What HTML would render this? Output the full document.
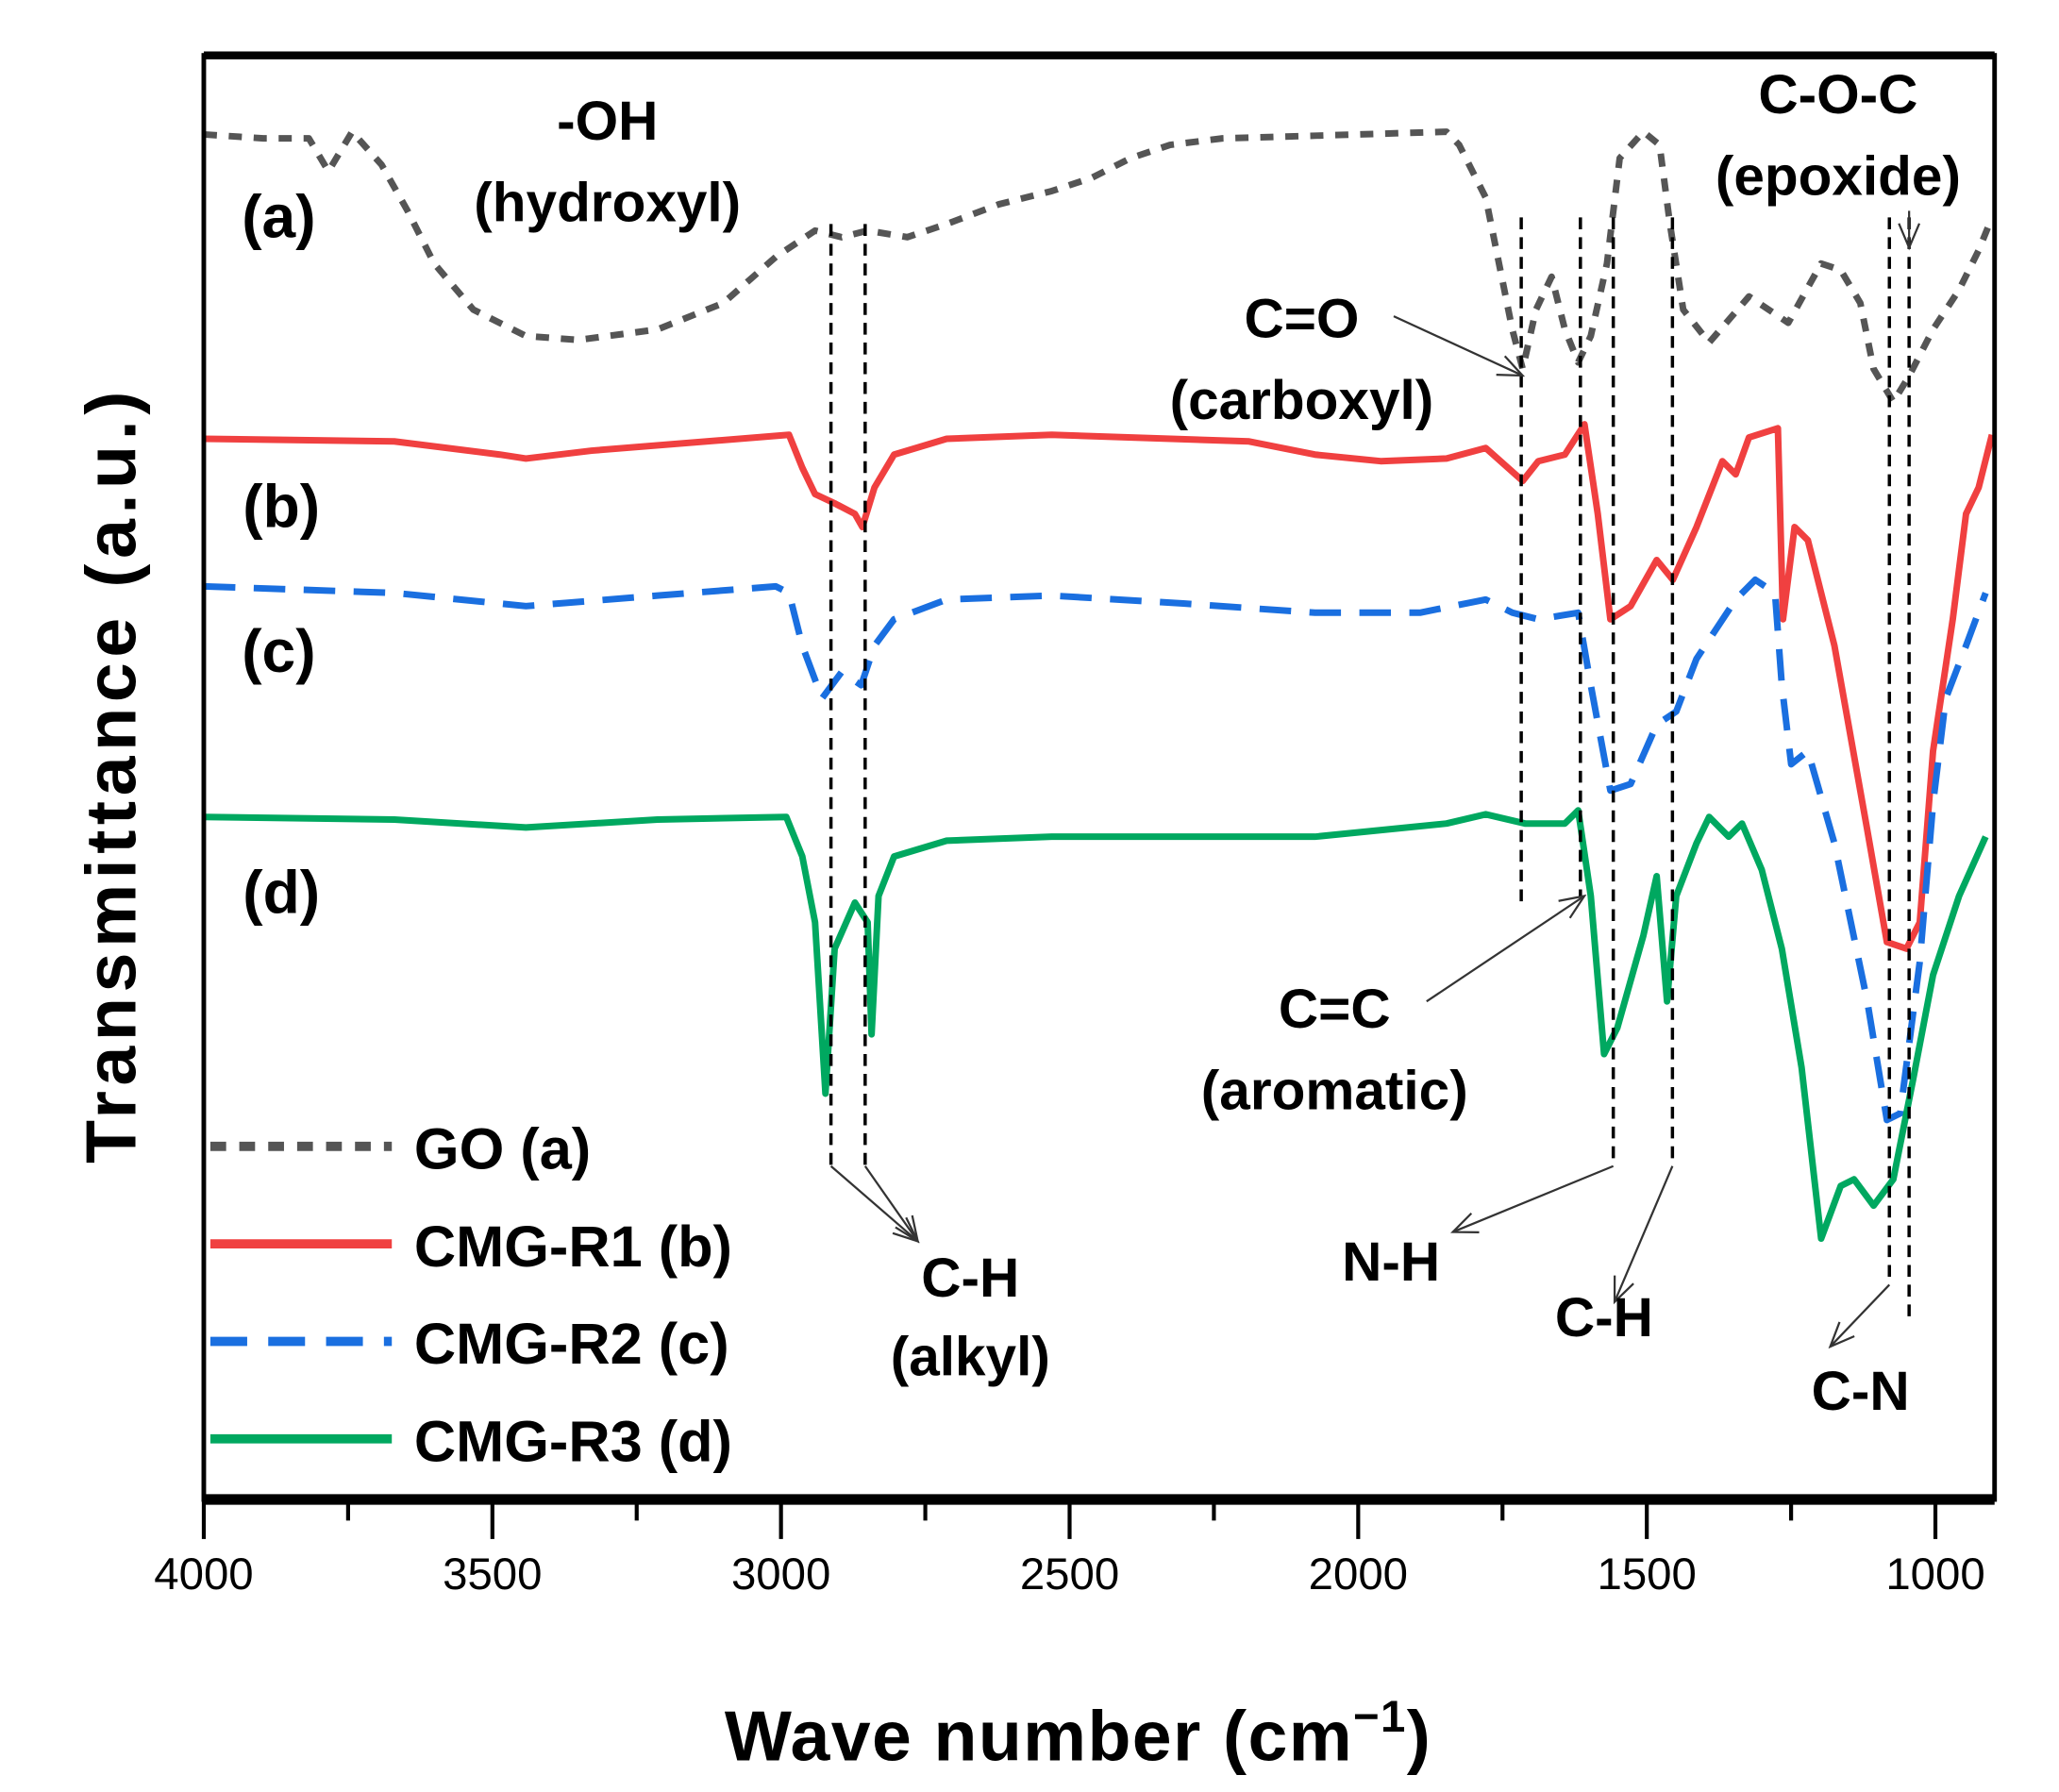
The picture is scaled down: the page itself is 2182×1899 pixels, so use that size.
<!DOCTYPE html>
<html><head><meta charset="utf-8"><style>
html,body{margin:0;padding:0;background:#fff;}
svg{display:block;}
text{font-family:"Liberation Sans",sans-serif;font-weight:bold;fill:#000;}
</style></head><body>
<svg id="chart" width="2182" height="1899" viewBox="0 0 1566 1360" preserveAspectRatio="none" xmlns="http://www.w3.org/2000/svg">
<g id="plot"></g>
</svg>
<script>
const xTicks = [4000,3500,3000,2500,2000,1500,1000];
const xMinor = [3750,3250,2750,2250,1750,1250];
const goWn = [4000,3897,3818,3784,3743,3692,3647,3601,3533,3442,3351,3214,3100,3009,2941,2895,2850,2781,2713,2622,2531,2462,2394,2326,2235,2075,1847,1825,1779,1756,1733,1715,1692,1665,1642,1619,1597,1569,1547,1506,1478,1460,1437,1392,1323,1255,1198,1164,1130,1107,1073,1045,1004,959,925,902];
const goVal = [1036,1033,1033,1008,1038,1013,978,938,903,883,880,888,908,943,963,958,963,958,968,983,993,1003,1018,1028,1033,1035,1038,1028,988,938,888,858,903,928,888,863,883,938,1018,1038,1028,968,903,878,913,893,938,933,908,858,833,853,888,918,948,973];
const r1Wn = [4000,3670,3487,3442,3328,2986,2963,2941,2907,2872,2859,2838,2804,2713,2531,2189,2075,1961,1847,1779,1715,1688,1642,1608,1585,1563,1528,1483,1455,1414,1369,1346,1323,1273,1264,1244,1221,1175,1118,1084,1050,1027,1004,970,947,925,902];
const r1Val = [805,803,793,790,796,808,783,763,756,748,738,768,793,805,808,803,793,788,790,798,773,788,793,816,748,668,678,713,698,738,788,778,806,813,668,738,728,648,508,423,418,438,568,668,748,768,808];
const r2Wn = [4000,3670,3442,3214,3009,2986,2963,2929,2895,2861,2838,2804,2713,2531,2303,2075,1893,1779,1733,1688,1619,1597,1563,1528,1483,1449,1414,1346,1312,1278,1266,1250,1221,1175,1118,1084,1061,1027,1004,982,947,913];
const r2Val = [693,688,678,686,693,688,648,608,628,618,648,668,683,686,680,673,673,683,673,668,673,618,538,543,588,598,638,683,698,688,618,558,568,498,378,288,293,408,528,608,648,688];
const r3Wn = [4000,3670,3442,3214,2991,2963,2941,2923,2907,2872,2850,2843,2831,2804,2713,2531,2075,1847,1779,1711,1642,1619,1597,1574,1551,1506,1483,1465,1449,1414,1392,1358,1335,1301,1266,1232,1198,1164,1141,1107,1073,1039,1004,959,913];
const r3Val = [518,516,510,516,518,488,438,308,418,453,438,353,458,488,500,503,503,513,520,513,513,523,458,338,358,428,473,378,458,498,518,503,513,478,418,328,198,238,243,223,243,318,398,458,503];

const L=155,R=1517,T=42,B=1138;
const xScale = wn => L + (4000-wn)*(1472-155)/3000;
const yScale = v => B - v;
const NS='http://www.w3.org/2000/svg';
const g=document.getElementById('plot');
function mk(tag,attrs,parent){const e=document.createElementNS(NS,tag);for(const k in attrs)e.setAttribute(k,attrs[k]);(parent||g).appendChild(e);return e;}

function series(wn,val,color,dash,width,name){
  const d=wn.map((w,i)=>(i?'L':'M')+xScale(w).toFixed(1)+','+yScale(val[i]).toFixed(1)).join(' ');
  const p=mk('path',{d:d,fill:'none',stroke:color,'stroke-width':width,'stroke-dasharray':dash,'stroke-linejoin':'round'});
  
  
}
series(goWn,goVal,'#555','10,9',5,'series-go');
series(r1Wn,r1Val,'#f04040','',5,'series-cmg-r1');
series(r2Wn,r2Val,'#1a6fe0','24,14',5,'series-cmg-r2');
series(r3Wn,r3Val,'#00a860','',5,'series-cmg-r3');

const guides=[[632,170,885],[658,170,885],[1157,165,685],[1202,165,680],[1227,165,885],[1272,165,885],[1437,165,975],[1452,165,1000]];
guides.forEach(a=>{const l=mk('line',{x1:a[0],x2:a[0],y1:a[1],y2:a[2],stroke:'#000','stroke-width':2.5,'stroke-dasharray':'9,6'});

});

function arrow(x1,y1,x2,y2){
  const l=mk('line',{x1:x1,y1:y1,x2:x2,y2:y2,stroke:'#333','stroke-width':1.6});
  
  
  const a=Math.atan2(y2-y1,x2-x1),s=20,w=0.4;
  const h=mk('path',{d:`M${x2-s*Math.cos(a-w)},${y2-s*Math.sin(a-w)} L${x2},${y2} L${x2-s*Math.cos(a+w)},${y2-s*Math.sin(a+w)}`,fill:'none',stroke:'#333','stroke-width':1.6});
  
  
}
arrow(632,885,698,942);arrow(658,885,698,942);
arrow(1060,240,1158,285);
arrow(1085,760,1205,680);
arrow(1227,885,1105,935);
arrow(1272,885,1228,988);
arrow(1437,975,1392,1022);
arrow(1452,160,1452,188);

const fr=mk('rect',{x:L,y:T,width:R-L,height:B-T,fill:'none',stroke:'#000','stroke-width':3.5});


mk('line',{x1:L,x2:R,y1:T,y2:T,stroke:'#000','stroke-width':6});
mk('line',{x1:L,x2:R,y1:B,y2:B,stroke:'#000','stroke-width':8});

xTicks.forEach(t=>{const x=xScale(t);
  mk('line',{x1:x,x2:x,y1:B,y2:B+30,stroke:'#000','stroke-width':3});
  const tx=mk('text',{x:x,y:1206,'text-anchor':'middle','font-size':34,style:'font-weight:normal'});
  tx.textContent=t;
  
  });
xMinor.forEach(t=>{const x=xScale(t);mk('line',{x1:x,x2:x,y1:B,y2:B+16,stroke:'#000','stroke-width':3});});

function txt(s,x,y,size,name,anchor){const t=mk('text',{x:x,y:y,'font-size':size,'text-anchor':anchor||'middle'});t.textContent=s;
  
  return t;}
txt('-OH',462,106,42,'label-oh');txt('(hydroxyl)',462,168,42,'label-hydroxyl');
txt('(a)',212,180,46,'curve-label-a');txt('(b)',214,400,46,'curve-label-b');
txt('(c)',212,510,46,'curve-label-c');txt('(d)',214,693,46,'curve-label-d');
txt('C=O',990,256,42,'label-co');txt('(carboxyl)',990,318,42,'label-carboxyl');
txt('C-O-C',1398,86,42,'label-coc');txt('(epoxide)',1398,148,42,'label-epoxide');
txt('C=C',1015,780,42,'label-cc');txt('(aromatic)',1015,842,42,'label-aromatic');
txt('C-H',738,984,42,'label-ch-alkyl');txt('(alkyl)',738,1044,42,'label-alkyl');
txt('N-H',1058,972,42,'label-nh');txt('C-H',1220,1014,42,'label-ch');txt('C-N',1415,1070,42,'label-cn');

const legNames=['GO (a)','CMG-R1 (b)','CMG-R2 (c)','CMG-R3 (d)'];
const legColors=['#555','#f04040','#1a6fe0','#00a860'];
const legDash=['12,10','','28,16',''];
legNames.forEach((n,i)=>{const y=870+i*74;
  const l=mk('line',{x1:160,x2:298,y1:y,y2:y,stroke:legColors[i],'stroke-width':7,'stroke-dasharray':legDash[i]});
  
  
  txt(n,315,y+17,44,'legend-entry','start');});

const yt=txt('Transmittance (a.u.)',0,0,54,'y-axis-title');
yt.setAttribute('transform','translate(103,588) rotate(-90)');
yt.setAttribute('letter-spacing','4');
const xt=txt('Wave number (cm',820,1336,54,'x-axis-title');
xt.setAttribute('letter-spacing','1');
const sup=mk('tspan',{dy:-22,'font-size':34},xt);sup.textContent='−1';
const cl=mk('tspan',{dy:22},xt);cl.textContent=')';
</script>
</body></html>
